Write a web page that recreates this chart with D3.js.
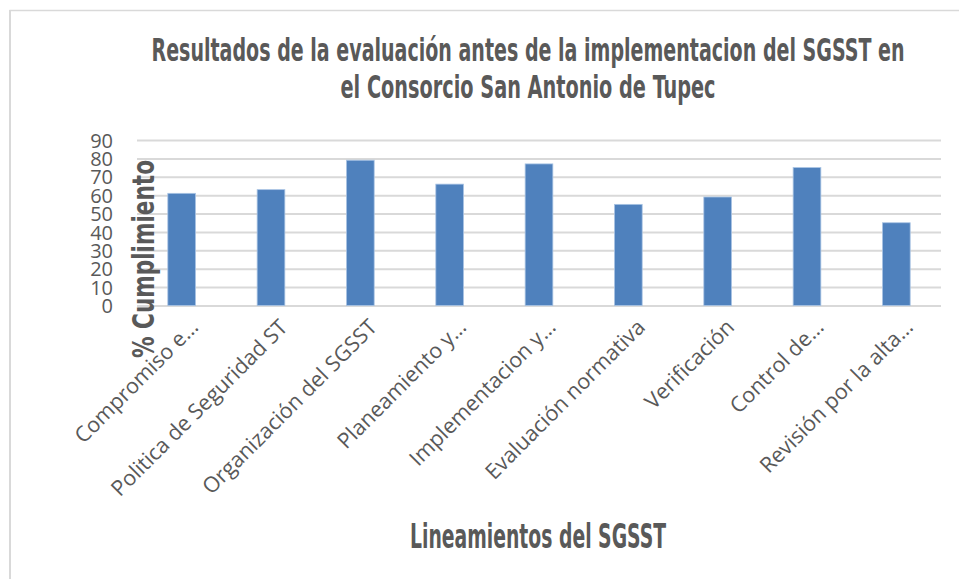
<!DOCTYPE html>
<html><head><meta charset="utf-8">
<script src="https://cdn.jsdelivr.net/npm/d3@7"></script>
<style>
body{margin:0;background:#fff;}
svg{display:block;}
</style></head>
<body><svg id="c" width="959" height="579"></svg>
<script>
const categories = ["Compromiso e…","Politica de Seguridad ST","Organización del SGSST","Planeamiento y…","Implementacion y…","Evaluación normativa","Verificación","Control de…","Revisión por la alta…"];
const values = [61,63,79,66,77,55,59,75,45];
const yTicks = [0,10,20,30,40,50,60,70,80,90];
const titleLines = ["Resultados de la evaluación antes de la implementacion del SGSST en","el Consorcio San Antonio de Tupec"];
const xTitle = "Lineamientos del SGSST";
const yTitle = "% Cumplimiento";

const svg = d3.select("#c");
const W=959,H=579;
svg.append("rect").attr("width",W).attr("height",H).attr("fill","#fff");
svg.append("line").attr("x1",9.5).attr("x2",W).attr("y1",10.5).attr("y2",10.5).attr("stroke","#d9d9d9").attr("stroke-width",1.5);
svg.append("line").attr("x1",10).attr("x2",10).attr("y1",10).attr("y2",H).attr("stroke","#d9d9d9").attr("stroke-width",2);

const x = d3.scaleBand().domain(categories).range([137,941]).paddingInner(0.69).paddingOuter(0.345);
const y = d3.scaleLinear().domain([0,90]).range([305.5,140]);

const condensed = "'DejaVu Sans Condensed','Liberation Sans Narrow',sans-serif";
const body = "'Open Sans','Noto Sans',sans-serif";

const yAxis = d3.axisLeft(y).tickValues(yTicks).tickSize(-(941-137)).tickPadding(24);
const gy = svg.append("g").attr("transform","translate(137,0)").call(yAxis);
gy.select(".domain").remove();
gy.selectAll(".tick line").attr("stroke","#d9d9d9").attr("stroke-width",2);
gy.selectAll(".tick text").attr("fill","#595959").style("font-family",body).style("font-size","20px").attr("dy","0.36em");

svg.append("g").selectAll("rect").data(values).join("rect")
  .attr("x",(d,i)=>x(categories[i]))
  .attr("width",x.bandwidth())
  .attr("y",d=>y(d))
  .attr("height",d=>y(0)-y(d))
  .attr("fill","#4f81bd").attr("stroke","#a9c4e4").attr("stroke-width",0.8);

const xAxis = d3.axisBottom(x).tickSize(0).tickPadding(0);
const gx = svg.append("g").attr("transform","translate(0,305.5)").call(xAxis);
gx.select(".domain").remove();
gx.selectAll(".tick text")
  .attr("fill","#595959").style("font-family",body).style("font-size","21.5px")
  .attr("text-anchor","end").attr("dy",null).attr("y",null)
  .attr("transform","translate(18,23) rotate(-45)");

function condText(sel, fs, len){
  sel.attr("fill","#595959").style("font-family",condensed).style("font-weight","bold")
    .style("font-size",fs+"px").attr("textLength",len).attr("lengthAdjust","spacingAndGlyphs");
  return sel;
}
condText(svg.append("text").attr("x",528).attr("y",61).attr("text-anchor","middle").text(titleLines[0]),32,753);
condText(svg.append("text").attr("x",528).attr("y",98).attr("text-anchor","middle").text(titleLines[1]),32,375);
condText(svg.append("text").attr("x",538).attr("y",548).attr("text-anchor","middle").text(xTitle),34,256);
condText(svg.append("text").attr("transform","translate(154,259) rotate(-90)").attr("text-anchor","middle").text(yTitle),31,198);
</script></body></html>
